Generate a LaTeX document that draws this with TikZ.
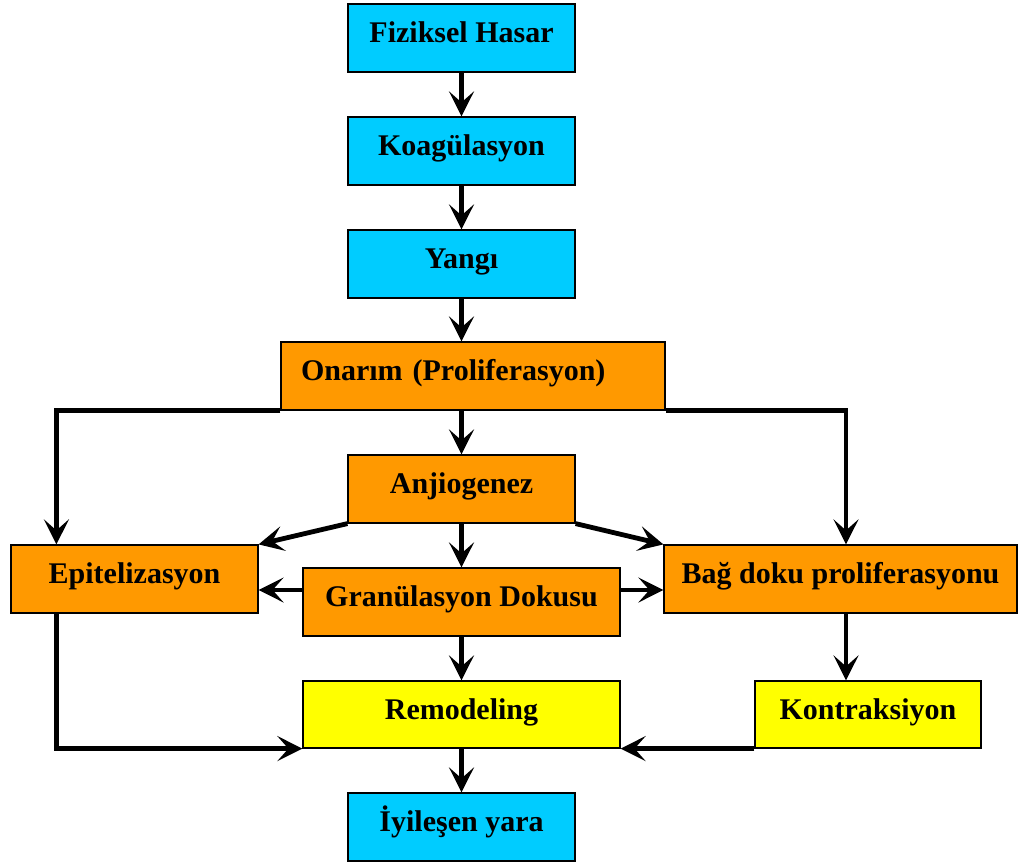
\documentclass[tikz,border=0pt]{standalone}
\usepackage{fontspec}
\setmainfont{Liberation Serif}
\usetikzlibrary{arrows.meta,calc}
\definecolor{cy}{HTML}{00CCFF}
\definecolor{orng}{HTML}{FF9900}
\definecolor{yel}{HTML}{FFFF00}
\begin{document}
\begin{tikzpicture}[x=1pt,y=-1pt,
 box/.style={draw=black,line width=1.2pt,inner sep=0pt,minimum height=68pt,font=\fontsize{30}{36}\selectfont\bfseries,text height=28pt,text depth=18.6pt},
 arr/.style={line width=4.8pt,-{Stealth[length=25pt,width=25pt,inset=11pt]}}]
\useasboundingbox (0,0) rectangle (1018,865);
\node[box,fill=cy,minimum width=227pt] (fh) at (461.5,38) {Fiziksel Hasar};
\node[box,fill=cy,minimum width=227pt] (koag) at (461.5,151) {Koagülasyon};
\node[box,fill=cy,minimum width=227pt] (yangi) at (461.5,264) {Yangı};
\node[box,fill=orng,inner xsep=20pt,text width=344pt,align=left] (onarim) at (473,376) {Onarım (Proliferasyon)};
\node[box,fill=orng,minimum width=227pt] (anj) at (461.5,489) {Anjiogenez};
\node[box,fill=orng,minimum width=247pt] (epi) at (134.5,579) {Epitelizasyon};
\node[box,fill=orng,minimum width=317pt] (gran) at (461.5,602) {Granülasyon Dokusu};
\node[box,fill=orng,minimum width=353pt] (bag) at (840.5,579) {Bağ doku proliferasyonu};
\node[box,fill=yel,minimum width=317pt,minimum height=67pt] (remod) at (461.5,714.5) {Remodeling};
\node[box,fill=yel,minimum width=226pt,minimum height=67pt] (kontr) at (868,714.5) {Kontraksiyon};
\node[box,fill=cy,minimum width=227pt] (iyi) at (461.5,827) {İyileşen yara};
% coordinates
\coordinate (lx) at ($(epi.north west)+(46,0)$);
\coordinate (rx) at ($(bag.north)+(5.5,0)$);
\coordinate (gl) at ($(gran.west)+(0,-12)$);
\coordinate (gr) at ($(gran.east)+(0,-12)$);
% connectors
\draw[arr] (fh.south) -- (koag.north);
\draw[arr] (koag.south) -- (yangi.north);
\draw[arr] (yangi.south) -- (yangi.south |- onarim.north);
\draw[arr] (anj.north |- onarim.south) -- (anj.north);
\draw[arr] (onarim.south west) -| (lx);
\draw[arr] (onarim.south east) -| (rx);
\draw[arr] (anj.south west) -- (epi.north east);
\draw[arr] (anj.south east) -- (bag.north west);
\draw[arr] (anj.south) -- (gran.north);
\draw[arr] (gl) -- (gl -| epi.east);
\draw[arr] (gr) -- (gr -| bag.west);
\draw[arr] (gran.south) -- (remod.north);
\draw[arr] (lx |- epi.south) |- (remod.south west);
\draw[arr] (rx |- bag.south) -- (rx |- kontr.north);
\draw[arr] (kontr.south west) -- (remod.south east);
\draw[arr] (remod.south) -- (iyi.north);
\end{tikzpicture}
\end{document}
